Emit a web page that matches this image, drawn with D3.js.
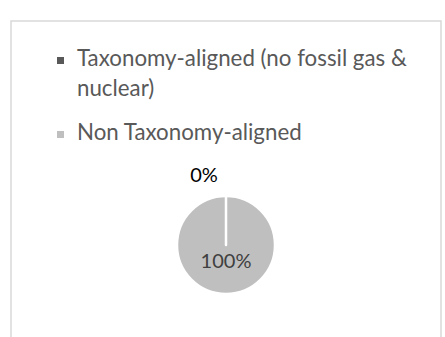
<!DOCTYPE html>
<html>
<head>
<meta charset="utf-8">
<script src="https://cdn.jsdelivr.net/npm/d3@7"></script>
<style>
  html, body { margin: 0; padding: 0; background: #fff; }
  svg { display: block; }
  text { font-family: Lato, "Open Sans", sans-serif; }
</style>
</head>
<body>
<svg id="chart" width="445" height="337"></svg>
<script>
// Share of investments by taxonomy alignment
const categories = ["Taxonomy-aligned (no fossil gas & nuclear)", "Non Taxonomy-aligned"];
const legendLines = [["Taxonomy-aligned (no fossil gas &", "nuclear)"], ["Non Taxonomy-aligned"]];
const values = [0, 100];
const valueLabels = ["0%", "100%"];
const colors = ["#595959", "#bfbfbf"];

const svg = d3.select("#chart");

// chart frame
svg.append("rect")
  .attr("x", 11).attr("y", 21)
  .attr("width", 430).attr("height", 330)
  .attr("fill", "#fff")
  .attr("stroke", "#d9d9d9")
  .attr("stroke-width", 1.5);

// legend
const legendFont = 22.3;
const labelFont = 20;
const legend = svg.append("g").attr("transform", "translate(57,0)");
const legendY = [66, 140];
categories.forEach((c, i) => {
  const g = legend.append("g").attr("transform", `translate(0,${legendY[i]})`);
  g.append("rect")
    .attr("x", 0).attr("y", -9)
    .attr("width", 7).attr("height", 7)
    .attr("fill", colors[i]);
  const t = g.append("text")
    .attr("x", 20).attr("y", 0)
    .attr("fill", "#595959")
    .style("font-size", legendFont + "px");
  legendLines[i].forEach((line, j) => {
    t.append("tspan").attr("x", 20).attr("dy", j === 0 ? 0 : 30).text(line);
  });
});

// pie
const cx = 226, cy = 245, r = 49;
const pie = d3.pie().sort(null).value(d => d);
const arcs = pie(values);
const arc = d3.arc().innerRadius(0).outerRadius(r);
const pieG = svg.append("g").attr("transform", `translate(${cx},${cy})`);

// draw the largest slice first so the thin slice border sits on top
const order = d3.range(values.length).sort((a, b) => values[b] - values[a]);
pieG.selectAll("path")
  .data(order.map(i => ({ a: arcs[i], i })))
  .join("path")
  .attr("d", d => arc(d.a))
  .attr("fill", d => colors[d.i])
  .attr("stroke", "#fff")
  .attr("stroke-width", 2.5)
  .attr("stroke-linejoin", "round");

// data labels: small slice outside, large slice inside
const outerArc = d3.arc().innerRadius(r + 18).outerRadius(r + 18);
const innerArc = d3.arc().innerRadius(r * 0.45).outerRadius(r * 0.45);
arcs.forEach((a, i) => {
  const small = values[i] < 5;
  let [x, y] = small ? outerArc.centroid(a) : innerArc.centroid(a);
  if (small) { x -= 22; y += 4; } else { y += 1; }
  pieG.append("text")
    .attr("x", x).attr("y", y)
    .attr("text-anchor", "middle")
    .attr("fill", small ? "#000" : "#404040")
    .style("font-size", labelFont + "px")
    .text(valueLabels[i]);
});
</script>
</body>
</html>
